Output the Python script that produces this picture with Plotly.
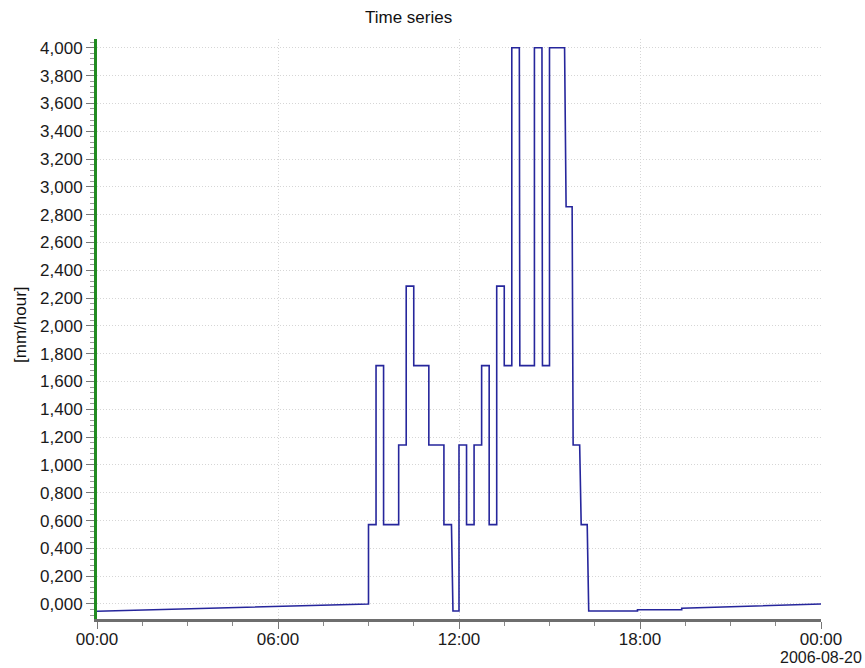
import plotly.graph_objects as go

# Rain intensity series for 2006-08-19 (step-wise record, [mm/hour])
timestamps = [
    "2006-08-19 00:00", "2006-08-19 09:00", "2006-08-19 09:00", "2006-08-19 09:15",
    "2006-08-19 09:15", "2006-08-19 09:30", "2006-08-19 09:30", "2006-08-19 10:00",
    "2006-08-19 10:00", "2006-08-19 10:15", "2006-08-19 10:15", "2006-08-19 10:30",
    "2006-08-19 10:30", "2006-08-19 11:00", "2006-08-19 11:00", "2006-08-19 11:30",
    "2006-08-19 11:30", "2006-08-19 11:45", "2006-08-19 11:48", "2006-08-19 12:00",
    "2006-08-19 12:00", "2006-08-19 12:15", "2006-08-19 12:15", "2006-08-19 12:30",
    "2006-08-19 12:30", "2006-08-19 12:45", "2006-08-19 12:45", "2006-08-19 13:00",
    "2006-08-19 13:00", "2006-08-19 13:15", "2006-08-19 13:15", "2006-08-19 13:30",
    "2006-08-19 13:30", "2006-08-19 13:45", "2006-08-19 13:45", "2006-08-19 14:00",
    "2006-08-19 14:01", "2006-08-19 14:30", "2006-08-19 14:30", "2006-08-19 14:45",
    "2006-08-19 14:46", "2006-08-19 15:00", "2006-08-19 15:00", "2006-08-19 15:30",
    "2006-08-19 15:33", "2006-08-19 15:45", "2006-08-19 15:47", "2006-08-19 16:00",
    "2006-08-19 16:03", "2006-08-19 16:15", "2006-08-19 16:18", "2006-08-19 17:55",
    "2006-08-19 17:55", "2006-08-19 19:23", "2006-08-19 19:23", "2006-08-20 00:00",
]
rain_rate = [
    -0.052, 0.0, 0.571, 0.571,
    1.714, 1.714, 0.571, 0.571,
    1.143, 1.143, 2.286, 2.286,
    1.714, 1.714, 1.143, 1.143,
    0.571, 0.571, -0.05, -0.05,
    1.143, 1.143, 0.571, 0.571,
    1.143, 1.143, 1.714, 1.714,
    0.571, 0.571, 2.286, 2.286,
    1.714, 1.714, 4.0, 4.0,
    1.714, 1.714, 4.0, 4.0,
    1.714, 1.714, 4.0, 4.0,
    2.857, 2.857, 1.143, 1.143,
    0.571, 0.571, -0.05, -0.05,
    -0.041, -0.041, -0.031, 0.0,
]

x_tick_values = ["2006-08-19 00:00", "2006-08-19 06:00", "2006-08-19 12:00",
                 "2006-08-19 18:00", "2006-08-20 00:00"]
x_tick_labels = ["00:00", "06:00", "12:00", "18:00", "00:00"]
end_date_label = "2006-08-20"

FONT = "Liberation Sans, Arial, sans-serif"
TEXT_SIZE = 17

fig = go.Figure()
fig.add_trace(go.Scatter(
    x=timestamps, y=rain_rate, mode="lines",
    line=dict(color="#26269c", width=1.6, shape="linear"),
    showlegend=False, hoverinfo="x+y",
))

fig.update_layout(
    width=865, height=668,
    margin=dict(l=97, r=44, t=39, b=49),
    paper_bgcolor="white", plot_bgcolor="white",
    separators=",.",
    font=dict(family=FONT, size=TEXT_SIZE, color="#1a1a1a"),
    annotations=[
        dict(text="Time series", xref="paper", yref="paper",
             x=(408 - 97) / 724, y=(619 - 17) / 580, xanchor="center", yanchor="middle",
             showarrow=False, font=dict(family=FONT, size=TEXT_SIZE, color="#111")),
        dict(text="[mm/hour]", xref="paper", yref="paper",
             x=(20 - 97) / 724, y=(619 - 325) / 580, xanchor="center", yanchor="middle",
             textangle=-90, showarrow=False, font=dict(family=FONT, size=TEXT_SIZE, color="#111")),
        # date line under the last time tick
        dict(text=end_date_label, xref="x", yref="paper",
             x=x_tick_values[-1], y=(619 - 657) / 580, xanchor="center", yanchor="middle",
             showarrow=False, font=dict(family=FONT, size=16, color="#1a1a1a")),
    ],
)

fig.update_xaxes(
    type="date", automargin=False,
    range=["2006-08-19 00:00", "2006-08-20 00:00"],
    tickmode="array", tickvals=x_tick_values, ticktext=x_tick_labels,
    ticks="outside", ticklen=7, tickcolor="#777", tickwidth=1,
    ticklabelstandoff=-4,
    showgrid=True, gridcolor="#d6d6d6", griddash="1px,2px", gridwidth=1,
    showline=True, linecolor="#6e6e6e", linewidth=3,
    zeroline=False,
    minor=dict(dtick=5400000, tick0="2006-08-19 00:00", ticks="outside",
               ticklen=4, tickcolor="#888", showgrid=False),
)

fig.update_yaxes(
    automargin=False,
    range=[-0.108, 4.063],
    tickmode="linear", tick0=0, dtick=0.2, tickformat=".3f",
    ticks="outside", ticklen=8, tickcolor="#777", tickwidth=1,
    showgrid=True, gridcolor="#d6d6d6", griddash="1px,2px", gridwidth=1,
    showline=True, linecolor="#228b22", linewidth=3,
    zeroline=False,
    minor=dict(dtick=0.04, tick0=0, ticks="outside", ticklen=4,
               tickcolor="#999", showgrid=False),
)

fig.write_html("out.html")
